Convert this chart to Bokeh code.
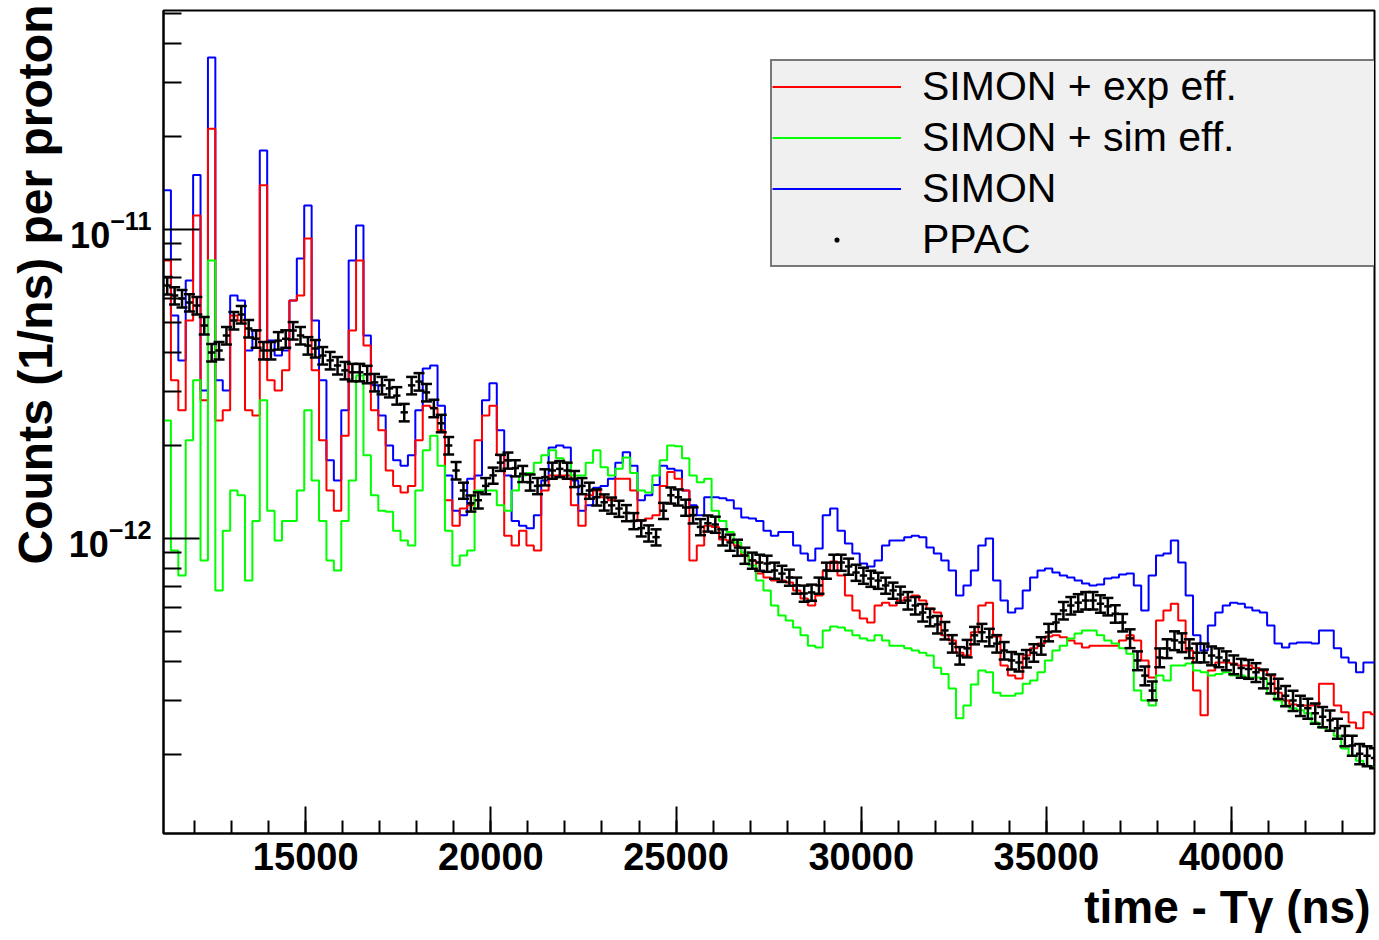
import math
import numpy as np
from bokeh.plotting import figure
from bokeh.models import (Range1d, FixedTicker, Legend, LegendItem, Title,
                          LogTickFormatter)
from bokeh.embed import file_html
from bokeh.resources import INLINE

# ---------------- data (values in units of 1e-12 counts/ns per proton) ----------------
T_START = 11160      # ns, low edge of first bin
BIN_W = 200          # ns, bin width
UNIT = 1e-12

simon = [13.4, 5.27, 3.77, 6.84, 15.0, 3.01, 36.0, 3.25, 3.01, 6.11,
         5.89, 4.06, 4.71, 18.0, 4.37, 3.91, 4.06, 5.89, 8.06, 11.96,
         5.08, 3.25, 1.79, 1.54, 2.60, 7.94, 10.3, 4.54, 3.13, 2.50,
         2.00, 1.79, 1.72, 1.86, 2.60, 3.55, 3.63, 2.69, 1.60, 1.23,
         1.19, 1.56, 1.60, 2.80, 3.18, 2.24, 1.60, 1.14, 1.10, 1.08,
         1.19, 1.54, 1.97, 2.00, 1.97, 1.54, 1.23, 1.28, 1.46, 1.48,
         1.56, 1.76, 1.90, 1.72, 1.33, 1.38, 1.49, 1.72, 1.68, 1.66,
         1.43, 1.28, 1.19, 1.36, 1.36, 1.35, 1.33, 1.25, 1.17, 1.16,
         1.14, 1.06, 1.02, 1.05, 1.05, 0.949, 0.895, 0.849, 0.929, 1.19,
         1.25, 1.06, 0.963, 0.895, 0.830, 0.812, 0.849, 0.949, 0.985, 0.985,
         1.01, 1.02, 1.01, 0.935, 0.895, 0.849, 0.788, 0.654, 0.705, 0.788,
         0.949, 1.00, 0.731, 0.630, 0.576, 0.594, 0.679, 0.748, 0.788, 0.800,
         0.776, 0.759, 0.748, 0.731, 0.715, 0.705, 0.710, 0.742, 0.748, 0.765,
         0.770, 0.705, 0.585, 0.759, 0.881, 0.895, 0.985, 0.836, 0.654, 0.486,
         0.434, 0.523, 0.576, 0.607, 0.620, 0.615, 0.598, 0.585, 0.576, 0.523,
         0.457, 0.444, 0.457, 0.461, 0.461, 0.457, 0.504, 0.504, 0.441, 0.412,
         0.397, 0.369, 0.397, 0.397]

simon_exp = [7.94, 3.25, 2.60, 5.08, 11.1, 2.80, 21.2, 2.41, 2.60, 5.27,
             5.08, 2.60, 2.50, 13.9, 3.25, 3.01, 3.50, 5.89, 6.11, 9.35,
             3.50, 2.08, 1.43, 1.23, 2.15, 4.71, 7.94, 4.21, 2.60, 2.24,
             1.66, 1.48, 1.41, 1.48, 2.08, 2.69, 2.65, 2.24, 1.33, 1.10,
             1.25, 1.28, 2.08, 2.50, 2.69, 1.86, 1.02, 0.949, 1.06, 0.949,
             0.915, 1.43, 1.60, 1.60, 1.60, 1.28, 1.10, 1.38, 1.43, 1.36,
             1.33, 1.56, 1.56, 1.43, 1.14, 1.16, 1.19, 1.48, 1.64, 1.56,
             1.43, 0.849, 0.949, 1.10, 1.09, 0.993, 0.985, 0.949, 0.881, 0.849,
             0.770, 0.748, 0.731, 0.731, 0.720, 0.679, 0.640, 0.607, 0.654, 0.788,
             0.843, 0.759, 0.654, 0.585, 0.551, 0.535, 0.607, 0.620, 0.607, 0.630,
             0.644, 0.654, 0.630, 0.594, 0.576, 0.486, 0.468, 0.427, 0.418, 0.497,
             0.607, 0.620, 0.482, 0.388, 0.360, 0.352, 0.418, 0.441, 0.457, 0.482,
             0.486, 0.479, 0.468, 0.457, 0.444, 0.450, 0.450, 0.450, 0.450, 0.468,
             0.486, 0.468, 0.403, 0.355, 0.543, 0.585, 0.615, 0.543, 0.434, 0.322,
             0.268, 0.374, 0.397, 0.397, 0.394, 0.388, 0.388, 0.381, 0.374, 0.360,
             0.317, 0.299, 0.290, 0.288, 0.288, 0.288, 0.339, 0.339, 0.288, 0.274,
             0.254, 0.243, 0.274, 0.270]

simon_sim = [2.41, 0.915, 0.759, 2.08, 3.25, 0.849, 7.94, 0.679, 1.06, 1.43,
             1.38, 0.731, 1.14, 2.80, 1.23, 0.985, 1.14, 1.14, 1.43, 2.60,
             1.54, 1.14, 0.849, 0.788, 1.14, 1.54, 3.37, 1.86, 1.38, 1.23,
             1.22, 1.06, 0.985, 0.949, 1.43, 1.93, 2.15, 1.72, 1.06, 0.818,
             0.881, 0.915, 1.43, 1.43, 1.43, 1.28, 1.23, 1.43, 1.60, 1.63,
             1.76, 1.86, 1.93, 1.82, 1.76, 1.60, 1.60, 1.76, 1.93, 1.70,
             1.60, 1.68, 1.83, 1.63, 1.43, 1.41, 1.60, 1.79, 2.00, 1.99,
             1.82, 1.60, 1.52, 1.56, 1.23, 1.14, 1.05, 0.971, 0.901, 0.818,
             0.731, 0.679, 0.607, 0.563, 0.543, 0.515, 0.486, 0.450, 0.444, 0.504,
             0.519, 0.515, 0.504, 0.486, 0.475, 0.468, 0.486, 0.468, 0.450, 0.450,
             0.441, 0.434, 0.427, 0.418, 0.382, 0.364, 0.327, 0.262, 0.288, 0.337,
             0.374, 0.369, 0.317, 0.310, 0.310, 0.315, 0.339, 0.347, 0.369, 0.403,
             0.434, 0.450, 0.475, 0.493, 0.504, 0.504, 0.486, 0.468, 0.457, 0.441,
             0.424, 0.322, 0.299, 0.288, 0.360, 0.347, 0.388, 0.388, 0.394, 0.374,
             0.369, 0.360, 0.364, 0.369, 0.360, 0.360, 0.355, 0.355, 0.352, 0.315,
             0.299, 0.288, 0.282, 0.278, 0.272, 0.254, 0.244, 0.239, 0.230, 0.209,
             0.198, 0.191, 0.184, 0.182]

ppac = [6.59, 6.11, 5.98, 5.80, 5.68, 4.89, 4.00, 4.06, 4.54, 5.08,
        5.31, 4.78, 4.43, 4.06, 4.06, 4.37, 4.43, 4.71, 4.54, 4.21,
        4.12, 3.91, 3.77, 3.63, 3.50, 3.45, 3.45, 3.40, 3.20, 3.13,
        3.06, 2.90, 2.56, 3.13, 3.22, 2.97, 2.64, 2.36, 2.00, 1.66,
        1.43, 1.30, 1.33, 1.48, 1.60, 1.76, 1.79, 1.69, 1.62, 1.52,
        1.48, 1.58, 1.66, 1.68, 1.66, 1.56, 1.48, 1.43, 1.36, 1.31,
        1.28, 1.25, 1.21, 1.14, 1.08, 1.04, 1.01, 1.23, 1.38, 1.36,
        1.26, 1.19, 1.09, 1.12, 1.11, 1.01, 0.971, 0.935, 0.881, 0.849,
        0.836, 0.830, 0.788, 0.770, 0.748, 0.705, 0.664, 0.669, 0.705, 0.788,
        0.836, 0.836, 0.812, 0.776, 0.759, 0.742, 0.731, 0.705, 0.679, 0.659,
        0.630, 0.607, 0.576, 0.556, 0.527, 0.504, 0.457, 0.418, 0.441, 0.486,
        0.497, 0.479, 0.457, 0.434, 0.403, 0.397, 0.409, 0.427, 0.450, 0.497,
        0.535, 0.585, 0.607, 0.620, 0.630, 0.630, 0.615, 0.603, 0.571, 0.535,
        0.475, 0.403, 0.360, 0.322, 0.412, 0.441, 0.468, 0.461, 0.441, 0.427,
        0.427, 0.418, 0.412, 0.403, 0.391, 0.381, 0.378, 0.369, 0.352, 0.339,
        0.327, 0.310, 0.299, 0.288, 0.282, 0.272, 0.265, 0.258, 0.243, 0.230,
        0.214, 0.201, 0.198, 0.195]

# relative statistical error of the PPAC points
ppac_rel_err = [0.065, 0.065, 0.065, 0.065, 0.065, 0.065, 0.065, 0.065, 0.065, 0.065,
                0.065, 0.065, 0.065, 0.065, 0.065, 0.065, 0.065, 0.065, 0.065, 0.065,
                0.065, 0.065, 0.065, 0.065, 0.065, 0.065, 0.065, 0.065, 0.065, 0.065,
                0.065, 0.065, 0.065, 0.065, 0.065, 0.065, 0.065, 0.065, 0.065, 0.065,
                0.060, 0.060, 0.060, 0.060, 0.060, 0.060, 0.060, 0.060, 0.060, 0.060,
                0.060, 0.060, 0.060, 0.060, 0.060, 0.060, 0.060, 0.060, 0.060, 0.060,
                0.060, 0.060, 0.060, 0.060, 0.060, 0.060, 0.060, 0.060, 0.060, 0.060,
                0.060, 0.060, 0.060, 0.060, 0.060, 0.060, 0.060, 0.060, 0.060, 0.060,
                0.060, 0.060, 0.060, 0.060, 0.060, 0.060, 0.060, 0.060, 0.060, 0.060,
                0.060, 0.060, 0.060, 0.060, 0.060, 0.060, 0.060, 0.060, 0.060, 0.060,
                0.065, 0.065, 0.065, 0.065, 0.065, 0.065, 0.065, 0.065, 0.065, 0.065,
                0.065, 0.065, 0.065, 0.065, 0.065, 0.065, 0.065, 0.065, 0.065, 0.065,
                0.065, 0.065, 0.065, 0.065, 0.065, 0.065, 0.065, 0.065, 0.065, 0.065,
                0.070, 0.070, 0.070, 0.070, 0.070, 0.070, 0.070, 0.070, 0.070, 0.070,
                0.070, 0.070, 0.070, 0.070, 0.070, 0.070, 0.070, 0.070, 0.070, 0.070,
                0.075, 0.075, 0.075, 0.075, 0.075, 0.075, 0.075, 0.075, 0.075, 0.075,
                0.075, 0.075, 0.075, 0.075]

labels = ["SIMON + exp eff.", "SIMON + sim eff.", "SIMON", "PPAC"]
x_major = [15000, 20000, 25000, 30000, 35000, 40000]
y_major = [1e-13, 1e-12, 1e-11, 1e-10]
x_title = "time - T\u03b3 (ns)"
y_title = "Counts (1/ns) per proton"

# ---------------- layout ----------------
W, H = 1379, 940
FL, FT, FW, FH = 163, 10, 1211, 823      # frame left/top/width/height in px
n = len(simon)
X0, X1 = 11160, 43860
Y0, Y1 = 1.110e-13, 5.113e-11
FONT = "Liberation Sans"

p = figure(width=W, height=H, y_axis_type="log",
           x_range=Range1d(X0, X1), y_range=Range1d(Y0, Y1),
           output_backend="svg", toolbar_location=None,
           min_border_left=FL, min_border_right=W - FL - FW,
           min_border_top=FT, min_border_bottom=H - FT - FH)
p.background_fill_color = "white"
p.border_fill_color = "white"
p.outline_line_color = "black"
p.outline_line_width = 2
p.grid.visible = False

# x axis
p.xaxis.ticker = FixedTicker(ticks=x_major, minor_ticks=list(range(12000, 44000, 1000)))
p.xaxis.major_tick_in = 27
p.xaxis.major_tick_out = 0
p.xaxis.minor_tick_in = 13
p.xaxis.minor_tick_out = 0
p.xaxis.major_label_text_font = FONT
p.xaxis.major_label_text_font_style = "bold"
p.xaxis.major_label_text_font_size = "38px"
p.xaxis.major_label_text_color = "black"
p.xaxis.major_label_standoff = 9

# y axis
y_minor = [k * 10.0 ** e for e in (-13, -12, -11) for k in range(2, 10)]
p.yaxis.ticker = FixedTicker(ticks=y_major, minor_ticks=y_minor)
p.yaxis.formatter = LogTickFormatter()
p.yaxis.major_tick_in = 36
p.yaxis.major_tick_out = 0
p.yaxis.minor_tick_in = 18
p.yaxis.minor_tick_out = 0
p.yaxis.major_label_text_font = FONT
p.yaxis.major_label_text_font_style = "bold"
p.yaxis.major_label_text_font_size = "36px"
p.yaxis.major_label_text_color = "black"
p.yaxis.major_label_standoff = 12

for ax in (p.xaxis, p.yaxis):
    ax.axis_line_width = 2
    ax.axis_line_color = "black"
    ax.major_tick_line_width = 2
    ax.minor_tick_line_width = 2
    ax.major_tick_line_color = "black"
    ax.minor_tick_line_color = "black"

# ---------------- histograms ----------------
edges = T_START + BIN_W * np.arange(n + 1)

def step_y(vals):
    v = np.asarray(vals) * UNIT
    return np.append(v, v[-1])

r_blue = p.step(x=edges, y=step_y(simon), mode="after", line_color="#0000ff", line_width=2)
r_red = p.step(x=edges, y=step_y(simon_exp), mode="after", line_color="#ff0000", line_width=2)
r_green = p.step(x=edges, y=step_y(simon_sim), mode="after", line_color="#00ff00", line_width=2)

# ---------------- PPAC points with error bars ----------------
xc = edges[:-1] + BIN_W / 2
yv = np.asarray(ppac) * UNIT
err = np.asarray(ppac_rel_err)
ylo = yv * (1 - err)
yhi = yv * (1 + err)
p.segment(x0=xc, y0=ylo, x1=xc, y1=yhi, line_color="black", line_width=2.5)
p.segment(x0=edges[:-1], y0=yv, x1=edges[1:], y1=yv, line_color="black", line_width=2.5)
p.scatter(x=xc, y=ylo, marker="dash", size=11, line_color="black", line_width=2.5)
p.scatter(x=xc, y=yhi, marker="dash", size=11, line_color="black", line_width=2.5)
r_ppac = p.scatter(x=xc, y=yv, marker="dot", size=6, fill_color="black", line_color="black")

# ---------------- legend ----------------
LEG_L, LEG_B = 770, 267
legend = Legend(items=[LegendItem(label=labels[0], renderers=[r_red]),
                       LegendItem(label=labels[1], renderers=[r_green]),
                       LegendItem(label=labels[2], renderers=[r_blue]),
                       LegendItem(label=labels[3], renderers=[r_ppac])],
                location=(LEG_L - FL, FT + FH - LEG_B),
                orientation="vertical", padding=0, spacing=0, margin=0,
                glyph_width=129, glyph_height=51, label_height=51,
                label_width=FL + FW - LEG_L - 129 - 21, label_standoff=21,
                label_text_font=FONT, label_text_font_size="41px",
                label_text_color="black",
                background_fill_color="#f0f0f0", background_fill_alpha=1.0,
                border_line_color="black", border_line_width=2)
p.add_layout(legend)

# ---------------- axis titles (right/top aligned, ROOT style) ----------------
p.add_layout(Title(text=y_title, align="right", vertical_align="bottom", offset=-6, standoff=8,
                   text_font=FONT, text_font_style="bold", text_font_size="48px",
                   text_color="black"), "left")
p.add_layout(Title(text=x_title, align="right", vertical_align="bottom", offset=4, standoff=12,
                   text_font=FONT, text_font_style="bold", text_font_size="46px",
                   text_color="black"), "below")

open("out.html", "w").write(file_html(p, INLINE))
